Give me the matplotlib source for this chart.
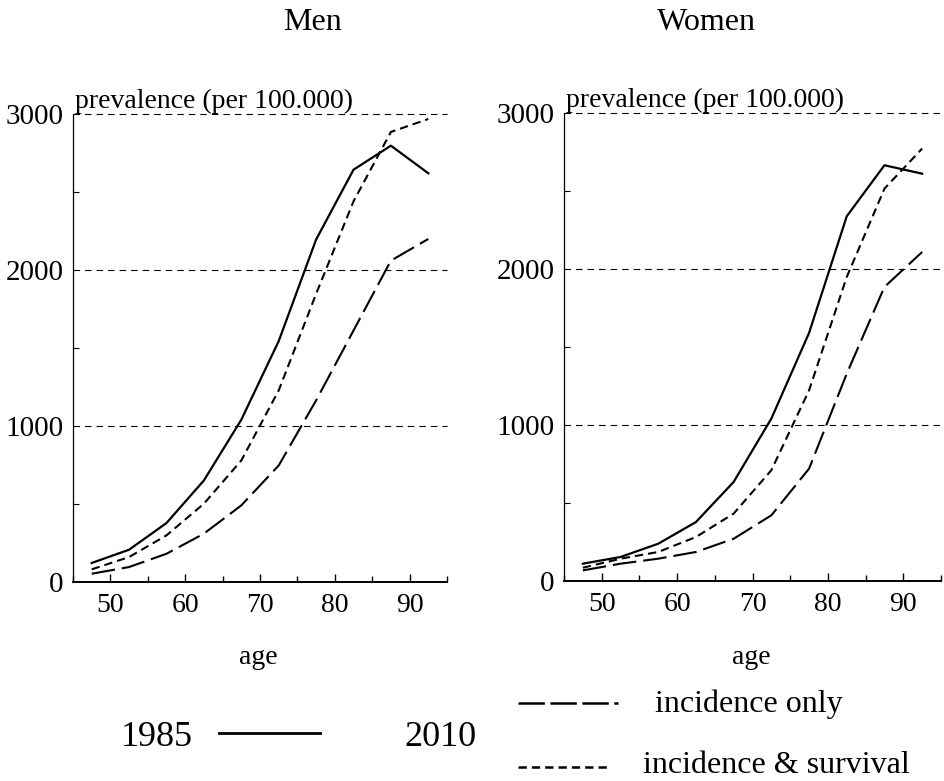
import matplotlib
matplotlib.use('Agg')
import matplotlib.pyplot as plt
from matplotlib.lines import Line2D
from matplotlib.ticker import MultipleLocator

# prevalence per 100.000 by 5-year age group (midpoints)
AGE = [47.5, 52.5, 57.5, 62.5, 67.5, 72.5, 77.5, 82.5, 87.5, 92.5]

MEN_1985 = [122, 207, 378, 651, 1040, 1544, 2195, 2643, 2797, 2620]
MEN_2010_INC = [53, 96, 181, 310, 491, 747, 1164, 1612, 2060, 2199]
MEN_2010_INC_SURV = [81, 160, 299, 502, 779, 1228, 1847, 2440, 2885, 2968]

WOMEN_1985 = [111, 154, 239, 378, 635, 1041, 1590, 2338, 2665, 2611]
WOMEN_2010_INC = [68, 111, 143, 186, 271, 421, 720, 1329, 1885, 2109]
WOMEN_2010_INC_SURV = [85, 143, 186, 282, 432, 710, 1222, 1949, 2515, 2772]

PANELS = [('Men', MEN_1985, MEN_2010_INC, MEN_2010_INC_SURV),
          ('Women', WOMEN_1985, WOMEN_2010_INC, WOMEN_2010_INC_SURV)]

Y_TICKS = [0, 1000, 2000, 3000]
X_TICKS = [50, 60, 70, 80, 90]

LONG_DASH = (17, 5)
SHORT_DASH = (6, 3.6)
GRID_DASH = (4.7, 3.6)

plt.rcParams.update({
    'font.family': 'Liberation Serif',
    'lines.scale_dashes': False,
    'axes.linewidth': 1.0,
})

W, H = 944, 781
fig = plt.figure(figsize=(W / 100, H / 100), dpi=100, facecolor='white')


def fx(px):
    return px / W


def fy(py):
    return 1 - py / H


ax_boxes = [(73, 447, 114, 582), (564, 941, 113, 581)]
title_x = [313, 706]
age_x = [258, 751]

for (name, y85, yinc, ysurv), (x0, x1, yt, yb), tx, axx in zip(
        PANELS, ax_boxes, title_x, age_x):
    ax = fig.add_axes([fx(x0), fy(yb), fx(x1 - x0), (yb - yt) / H])
    ax.set_xlim(45, 95)
    ax.set_ylim(0, 3000)
    for s in ('top', 'right'):
        ax.spines[s].set_visible(False)
    ax.spines['left'].set_linewidth(0.9)
    ax.spines['bottom'].set_linewidth(1.4)

    for yv in Y_TICKS[1:]:
        ax.axhline(yv, color='black', lw=0.8, dashes=GRID_DASH, zorder=1,
                   clip_on=False)

    ax.plot(AGE, y85, color='black', lw=1.6, zorder=3)
    ax.plot(AGE, yinc, color='black', lw=1.5, dashes=LONG_DASH, zorder=3)
    ax.plot(AGE, ysurv, color='black', lw=1.5, dashes=SHORT_DASH, zorder=3)

    ax.set_xticks(X_TICKS)
    ax.set_yticks(Y_TICKS)
    ax.xaxis.set_minor_locator(MultipleLocator(5))
    ax.yaxis.set_minor_locator(MultipleLocator(500))
    ax.tick_params(axis='x', which='major', direction='in', length=6,
                   width=1.0, pad=8, labelsize=20)
    ax.tick_params(axis='x', which='minor', direction='in', length=4.5,
                   width=1.0)
    ax.tick_params(axis='y', which='major', direction='in', length=0,
                   pad=7, labelsize=21)
    ax.tick_params(axis='y', which='minor', direction='in', length=4,
                   width=0.8)

    ax.text(45.3, 3000, 'prevalence (per 100.000)', fontsize=20,
            ha='left', va='bottom')

    fig.text(fx(tx), fy(23), name, fontsize=23, ha='center', va='center')
    fig.text(fx(axx), fy(657), 'age', fontsize=20, ha='center',
             va='center')

# key below the panels
fig.text(fx(157), fy(737), '1985', fontsize=26, ha='center', va='center')
fig.add_artist(Line2D([fx(219), fx(320)], [fy(733), fy(733)],
                      color='black', lw=2.0, transform=fig.transFigure))
fig.text(fx(440), fy(737), '2010', fontsize=26, ha='center', va='center')

fig.add_artist(Line2D([fx(518), fx(618)], [fy(703), fy(703)],
                      color='black', lw=1.8, dashes=(19, 4),
                      transform=fig.transFigure))
fig.text(fx(655), fy(712), 'incidence only', fontsize=23, ha='left',
         va='baseline')
fig.add_artist(Line2D([fx(518), fx(608)], [fy(767), fy(767)],
                      color='black', lw=1.8, dashes=SHORT_DASH,
                      transform=fig.transFigure))
fig.text(fx(643), fy(773), 'incidence & survival', fontsize=23, ha='left',
         va='baseline')

fig.savefig('out.png', dpi=100, facecolor='white')
